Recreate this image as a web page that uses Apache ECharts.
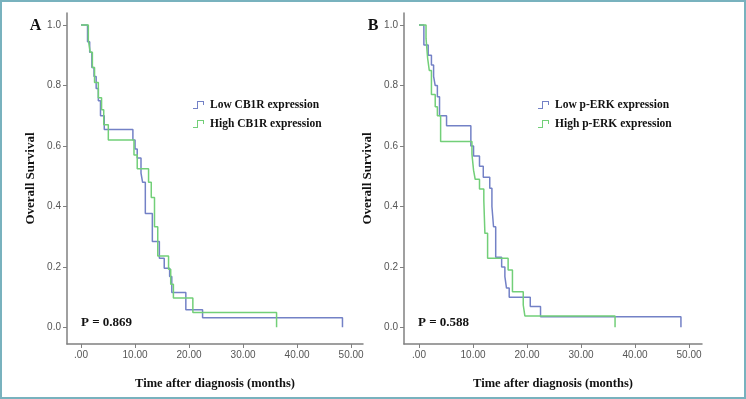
<!DOCTYPE html>
<html>
<head>
<meta charset="utf-8">
<script src="https://cdn.jsdelivr.net/npm/echarts@6/dist/echarts.min.js"></script>
<style>
html, body { margin: 0; padding: 0; background: #fff; }
#main { width: 746px; height: 399px; }
</style>
</head>
<body>
<div id="main"></div>
<script>
// tick values
var xTicks = [0, 10, 20, 30, 40, 50];
var yTicks = [0, 0.2, 0.4, 0.6, 0.8, 1.0];

// panel A - CB1R (time in months, survival after the step)
var timeLowA = [0, 1.2, 1.6, 2.0, 2.4, 2.8, 3.2, 3.6, 4.3, 9.6, 10.0, 10.4, 11.1, 11.4, 11.9, 13.2, 14.5, 15.4, 16.4, 16.8, 19.4, 22.5, 48.4];
var survLowA = [1.0, 0.945, 0.91, 0.86, 0.83, 0.79, 0.75, 0.70, 0.655, 0.62, 0.59, 0.56, 0.51, 0.48, 0.377, 0.284, 0.229, 0.196, 0.168, 0.115, 0.058, 0.032, 0.0];
var timeHighA = [0, 1.35, 1.7, 2.1, 2.5, 3.2, 3.8, 4.2, 5.05, 9.8, 10.4, 12.5, 13.0, 13.6, 14.2, 16.2, 16.6, 17.1, 20.7, 36.2];
var survHighA = [1.0, 0.95, 0.91, 0.86, 0.81, 0.76, 0.72, 0.67, 0.62, 0.57, 0.525, 0.48, 0.43, 0.333, 0.236, 0.192, 0.143, 0.097, 0.049, 0.0];

// panel B - p-ERK
var timeLowB = [0, 0.9, 1.7, 2.3, 2.7, 3.0, 3.4, 3.8, 5.1, 9.6, 10.1, 11.2, 11.9, 13.1, 13.5, 13.8, 14.2, 15.3, 15.9, 16.2, 16.7, 20.6, 22.5, 48.5];
var survLowB = [1.0, 0.934, 0.90, 0.868, 0.83, 0.80, 0.763, 0.70, 0.667, 0.60, 0.567, 0.533, 0.497, 0.46, 0.40, 0.333, 0.232, 0.20, 0.168, 0.13, 0.10, 0.069, 0.035, 0.0];
var timeHighB = [0, 1.3, 1.6, 1.9, 2.3, 3.0, 3.4, 4.0, 9.8, 10.1, 10.4, 11.2, 12.0, 12.2, 12.7, 16.5, 17.3, 19.3, 19.6, 36.3];
var survHighB = [1.0, 0.956, 0.89, 0.85, 0.77, 0.73, 0.70, 0.615, 0.573, 0.52, 0.49, 0.458, 0.42, 0.311, 0.229, 0.19, 0.118, 0.074, 0.038, 0.0];

var blue = '#7381c6';
var green = '#72cf78';
var serif = '"Liberation Serif", "Times New Roman", serif';
var narrow = '"Liberation Sans Narrow", "Arial Narrow", "Liberation Sans", sans-serif';
var stepIcon = 'path://M0,7 L4,7 L4,0 L11,0 L11,4 L10,4 L10,1 L5,1 L5,8 L0,8 Z';

function pairs(t, s) {
  return t.map(function (v, i) { return [v, s[i]]; });
}

function xAxisFor(idx, min, max) {
  return {
    type: 'value', gridIndex: idx, min: min, max: max,
    name: 'Time after diagnosis (months)', nameLocation: 'middle', nameGap: 33,
    nameTextStyle: { fontFamily: serif, fontWeight: 'bold', fontSize: 12.5, color: '#111' },
    axisLine: { onZero: false, lineStyle: { color: '#808080', width: 1.5 } },
    axisTick: { customValues: xTicks, length: 4, lineStyle: { color: '#808080' } },
    axisLabel: {
      customValues: xTicks, margin: 6, fontFamily: narrow, fontSize: 10, color: '#555',
      formatter: function (v) { return v === 0 ? '.00' : v.toFixed(2); }
    },
    splitLine: { show: false }
  };
}

function yAxisFor(idx) {
  return {
    type: 'value', gridIndex: idx, min: -0.055, max: 1.04,
    name: 'Overall Survival', nameLocation: 'middle', nameGap: 30,
    nameTextStyle: { fontFamily: serif, fontWeight: 'bold', fontSize: 13, color: '#111' },
    axisLine: { show: true, onZero: false, lineStyle: { color: '#808080', width: 1.5 } },
    axisTick: { show: true, customValues: yTicks, length: 4, lineStyle: { color: '#808080' } },
    axisLabel: {
      customValues: yTicks, margin: 6, fontFamily: narrow, fontSize: 10, color: '#555',
      formatter: function (v) { return v.toFixed(1); }
    },
    splitLine: { show: false }
  };
}

function kmSeries(name, idx, data, color) {
  return {
    name: name, type: 'line', step: 'end',
    xAxisIndex: idx, yAxisIndex: idx,
    data: data, showSymbol: false, symbol: 'none',
    itemStyle: { color: color },
    lineStyle: { color: color, width: 1.5 }
  };
}

var legendText = { fontFamily: serif, fontWeight: 'bold', fontSize: 11.5, color: '#111' };

var chart = echarts.init(document.getElementById('main'));
chart.setOption({
  animation: false,
  backgroundColor: '#fff',
  grid: [
    { left: 67, top: 13, width: 296, height: 331 },
    { left: 404, top: 13, width: 298, height: 331 }
  ],
  xAxis: [xAxisFor(0, -2.6, 52.2), xAxisFor(1, -2.78, 52.4)],
  yAxis: [yAxisFor(0), yAxisFor(1)],
  legend: [
    {
      data: ['Low CB1R expression', 'High CB1R expression'],
      orient: 'vertical', left: 193, top: 99, padding: 0, itemGap: 7,
      itemWidth: 13, itemHeight: 8, icon: stepIcon, textStyle: legendText
    },
    {
      data: ['Low p-ERK expression', 'High p-ERK expression'],
      orient: 'vertical', left: 538, top: 99, padding: 0, itemGap: 7,
      itemWidth: 13, itemHeight: 8, icon: stepIcon, textStyle: legendText
    }
  ],
  graphic: [
    { type: 'rect', silent: true, shape: { x: 1, y: 1, width: 744, height: 397 },
      style: { fill: 'none', stroke: '#78b2be', lineWidth: 2 } },
    { type: 'text', x: 35.5, y: 25.5, style: { text: 'A', font: 'bold 16px ' + serif, fill: '#111', textAlign: 'center', textVerticalAlign: 'middle' } },
    { type: 'text', x: 373, y: 25.5, style: { text: 'B', font: 'bold 16px ' + serif, fill: '#111', textAlign: 'center', textVerticalAlign: 'middle' } },
    { type: 'text', x: 81, y: 323, style: { text: 'P = 0.869', font: 'bold 13px ' + serif, fill: '#111', textAlign: 'left', textVerticalAlign: 'middle' } },
    { type: 'text', x: 418, y: 323, style: { text: 'P = 0.588', font: 'bold 13px ' + serif, fill: '#111', textAlign: 'left', textVerticalAlign: 'middle' } }
  ],
  series: [
    kmSeries('Low CB1R expression', 0, pairs(timeLowA, survLowA), blue),
    kmSeries('High CB1R expression', 0, pairs(timeHighA, survHighA), green),
    kmSeries('Low p-ERK expression', 1, pairs(timeLowB, survLowB), blue),
    kmSeries('High p-ERK expression', 1, pairs(timeHighB, survHighB), green)
  ]
});
</script>
</body>
</html>
